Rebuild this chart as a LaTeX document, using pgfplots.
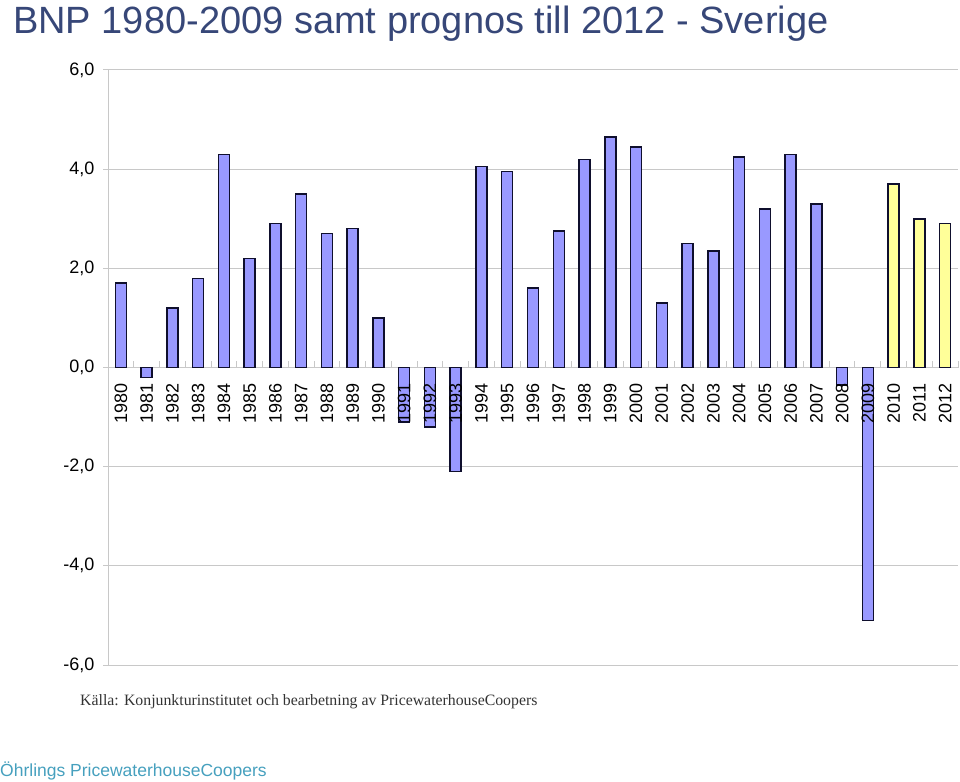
\documentclass[border=0pt]{standalone}
\usepackage{pgfplots}
\pgfplotsset{compat=1.18}
\usepackage{fontspec}
\setmainfont{Liberation Sans}
\newfontfamily\timesf{Liberation Serif}
\definecolor{barblue}{HTML}{9999FF}
\definecolor{baryellow}{HTML}{FFFF99}
\definecolor{titleblue}{RGB}{55,71,120}
\definecolor{pwcblue}{RGB}{70,160,190}
\definecolor{axgray}{RGB}{200,200,200}
\definecolor{barline}{RGB}{15,15,45}
\pgfplotsset{
  commonframe/.style={at={(108pt,-665pt)}, anchor=south west, scale only axis,
    width=850pt, height=595pt, xmin=-0.5, xmax=32.5, ymin=-6, ymax=6, clip=false},
}
\begin{document}
\begin{tikzpicture}
\path (0pt,0pt) rectangle (960pt,-781pt);
\node[anchor=base west, font=\fontsize{38}{42}\selectfont, text=titleblue, inner sep=0] at (13pt,-34pt) {BNP 1980-2009 samt prognos till 2012 - Sverige};
\begin{axis}[commonframe,
  axis x line*=middle, axis y line*=left,
  axis line style={axgray, line width=1pt, -},
  ytick={-6,-4,-2,0,2,4,6},
  ymajorgrids, grid style={axgray, line width=1pt},
  xtick={0,...,32}, xticklabels={},
  major x tick style={draw=none},
  minor xtick={-0.5,0.5,...,32.5},
  minor tick length=7pt,
  major tick length=5pt,
  y tick style={axgray, line width=1pt},
  minor x tick style={axgray, line width=1pt},
  ytick align=outside,
  yticklabel style={font=\fontsize{18}{20}\selectfont, xshift=-5pt, /pgf/number format/.cd, fixed, fixed zerofill, precision=1, use comma},
  /pgf/number format/assume math mode=true,
]
\addplot[ybar, bar width=11pt, bar shift=0pt, fill=barblue, draw=barline, line width=1.5pt] coordinates {
(0,1.7) (1,-0.2) (2,1.2) (3,1.8) (4,4.3) (5,2.2) (6,2.9) (7,3.5) (8,2.7) (9,2.8)
(10,1.0) (11,-1.1) (12,-1.2) (13,-2.1) (14,4.05) (15,3.95) (16,1.6) (17,2.75) (18,4.2) (19,4.65)
(20,4.45) (21,1.3) (22,2.5) (23,2.35) (24,4.25) (25,3.2) (26,4.3) (27,3.3) (28,-0.35) (29,-5.1)
};
\addplot[ybar, bar width=11pt, bar shift=0pt, fill=baryellow, draw=barline, line width=1.5pt] coordinates {
(30,3.7) (31,3.0) (32,2.9)
};
\end{axis}
\begin{axis}[commonframe,
  axis x line*=middle, axis y line=none,
  x axis line style={draw=none},
  ytick=\empty,
  xtick={0,...,32},
  xticklabels={1980,1981,1982,1983,1984,1985,1986,1987,1988,1989,1990,1991,1992,1993,1994,1995,1996,1997,1998,1999,2000,2001,2002,2003,2004,2005,2006,2007,2008,2009,2010,2011,2012},
  major x tick style={draw=none},
  xticklabel style={yshift=-14pt, rotate=90, anchor=east, font=\fontsize{18}{20}\selectfont, inner sep=2pt},
]
\end{axis}
\node[anchor=base west, font=\timesf\fontsize{15.8}{18}\selectfont, text=black!80, inner sep=0] at (80pt,-705pt) {Källa: Konjunkturinstitutet och bearbetning av PricewaterhouseCoopers};
\node[anchor=base west, font=\fontsize{17.5}{20}\selectfont, text=pwcblue, inner sep=0] at (0pt,-776pt) {Öhrlings PricewaterhouseCoopers};
\end{tikzpicture}
\end{document}
